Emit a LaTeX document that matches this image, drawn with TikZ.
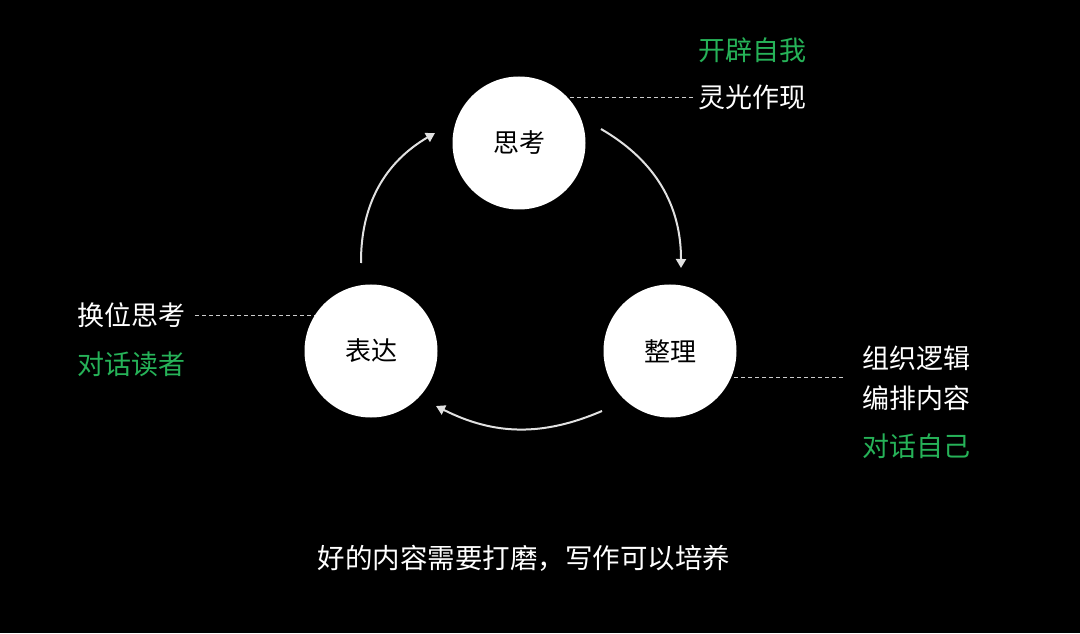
\documentclass[tikz,border=0pt]{standalone}
\usepackage{fontspec}
\setmainfont{Noto Sans CJK SC}
\usetikzlibrary{arrows.meta,backgrounds}
\definecolor{lgreen}{RGB}{38,178,88}
\definecolor{arcgray}{RGB}{225,225,225}
\tikzset{
  x=1pt,y=1pt,
  bigcircle/.style={circle,fill=white,draw=none,minimum size=133pt,inner sep=0pt,font=\fontsize{26}{30}\selectfont,text=black},
  lbl/.style={inner sep=0pt,font=\fontsize{27}{32}\selectfont,text=white},
  glbl/.style={lbl,text=lgreen},
  dashline/.style={draw=white!80!black,line width=0.9pt,dash pattern=on 4pt off 3pt},
  cyc/.style={draw=arcgray,line width=2pt,-{Triangle[width=10pt,length=9pt]}}
}
\begin{document}
\begin{tikzpicture}
\useasboundingbox (0,0) rectangle (1080,633);
% circles
\node[bigcircle] (sikao) at (519,490) {思考};
\node[bigcircle] (biaoda) at (371,282) {表达};
\node[bigcircle] (zhengli) at (670,282) {整理};
% labels
\node[glbl,anchor=west] (kaipi) at (698,583) {开辟自我};
\node[lbl,anchor=west] (lingguang) at (698,536) {灵光作现};
\node[lbl,anchor=east] (huanwei) at (186,318) {换位思考};
\node[glbl,anchor=west] (duihuaduzhe) at (77,269) {对话读者};
\node[lbl,anchor=west] (zuzhi) at (862,275) {组织逻辑};
\node[lbl,anchor=west] (bianpai) at (862,235) {编排内容};
\node[glbl,anchor=west] (duihuaziji) at (862,187) {对话自己};
\node[lbl,font=\fontsize{27.5}{32}\selectfont] (bottom) at (524,75) {好的内容需要打磨，写作可以培养};
\coordinate (rd) at (843,256);
% background and dashed leaders behind circles
\begin{scope}[on background layer]
\fill[black] (0,0) rectangle (1080,633);
\draw[dashline] ([xshift=-5pt]lingguang.west) -- (lingguang.west -| sikao.center);
\draw[dashline] ([xshift=9pt]huanwei.east) -- (huanwei.east -| biaoda.center);
\draw[dashline] (rd) -- (rd -| zhengli.center);
\end{scope}
% cycle arrows
\coordinate (a1s) at (361,370);
\coordinate (a1e) at (435,500);
\coordinate (a2s) at (601,504);
\coordinate (a2e) at (681,365);
\coordinate (a3s) at (602,222);
\coordinate (a3e) at (436,227);
\draw[cyc] (a1s) to[bend left=30] (a1e);
\draw[cyc] (a2s) to[bend left=30] (a2e);
\draw[cyc] (a3s) to[bend left=25] (a3e);
\end{tikzpicture}
\end{document}
